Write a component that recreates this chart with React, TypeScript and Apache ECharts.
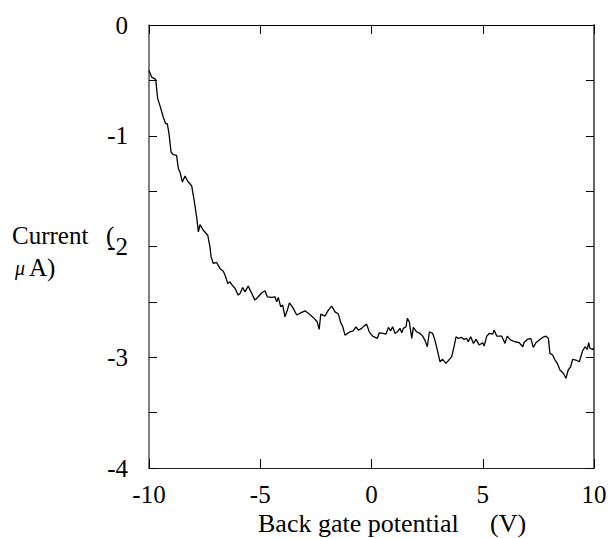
import React, { useEffect, useRef } from "react";
import * as echarts from "echarts";

const voltage: number[] = [
  -10.0, -9.88, -9.7, -9.61, -9.51, -9.36, -9.25, -9.18, -9.1, -9.01, -8.91, -8.76, -8.68, -8.61, -8.5,
  -8.38, -8.26, -8.08, -7.96, -7.86, -7.78, -7.71, -7.56, -7.36, -7.26, -7.21, -7.11, -6.96, -6.81, -6.66,
  -6.58, -6.46, -6.36, -6.26, -6.13, -5.99, -5.91, -5.79, -5.69, -5.54, -5.38, -5.24, -5.09, -4.93, -4.79,
  -4.68, -4.49, -4.34, -4.26, -4.19, -4.08, -3.99, -3.89, -3.78, -3.69, -3.54, -3.36, -3.18, -2.99, -2.8,
  -2.62, -2.44, -2.35, -2.28, -2.09, -1.94, -1.79, -1.64, -1.49, -1.38, -1.29, -1.19, -0.97, -0.82, -0.7,
  -0.59, -0.44, -0.34, -0.22, -0.1, 0.05, 0.26, 0.35, 0.53, 0.65, 0.76, 0.86, 0.95, 1.06, 1.16,
  1.28, 1.36, 1.43, 1.55, 1.61, 1.7, 1.81, 1.88, 2.03, 2.18, 2.3, 2.4, 2.51, 2.6, 2.75,
  2.85, 2.96, 3.08, 3.2, 3.35, 3.5, 3.6, 3.71, 3.8, 3.9, 4.05, 4.16, 4.28, 4.35, 4.46,
  4.58, 4.7, 4.8, 4.84, 5.0, 5.06, 5.18, 5.29, 5.45, 5.51, 5.63, 5.85, 6.0, 6.1, 6.26,
  6.45, 6.64, 6.8, 6.85, 7.0, 7.16, 7.27, 7.39, 7.54, 7.69, 7.84, 7.95, 8.02, 8.14, 8.25,
  8.35, 8.47, 8.62, 8.74, 8.84, 8.95, 9.04, 9.19, 9.34, 9.49, 9.6, 9.7, 9.76, 9.82, 9.94, 10.0,
];

const current: number[] = [
  -0.41, -0.471, -0.491, -0.665, -0.726, -0.831, -0.891, -0.891, -0.981, -1.147, -1.17, -1.177, -1.297, -1.327, -1.417,
  -1.363, -1.411, -1.454, -1.598, -1.733, -1.868, -1.802, -1.853, -1.898, -2.004, -2.094, -2.153, -2.144, -2.198, -2.223,
  -2.259, -2.334, -2.319, -2.349, -2.379, -2.439, -2.424, -2.37, -2.409, -2.358, -2.424, -2.484, -2.454, -2.418, -2.4,
  -2.454, -2.46, -2.454, -2.5, -2.46, -2.545, -2.529, -2.635, -2.574, -2.509, -2.55, -2.619, -2.599, -2.581, -2.61,
  -2.64, -2.68, -2.748, -2.61, -2.628, -2.574, -2.538, -2.59, -2.61, -2.689, -2.725, -2.8, -2.77, -2.761, -2.725,
  -2.755, -2.739, -2.719, -2.701, -2.77, -2.809, -2.83, -2.779, -2.785, -2.791, -2.73, -2.761, -2.725, -2.785, -2.77,
  -2.739, -2.779, -2.739, -2.725, -2.649, -2.68, -2.83, -2.73, -2.77, -2.785, -2.809, -2.845, -2.905, -2.77, -2.785,
  -2.845, -2.935, -3.041, -3.019, -3.055, -3.019, -2.996, -2.905, -2.815, -2.83, -2.821, -2.839, -2.83, -2.86, -2.815,
  -2.875, -2.839, -2.875, -2.89, -2.869, -2.899, -2.809, -2.785, -2.791, -2.755, -2.809, -2.809, -2.875, -2.809, -2.845,
  -2.86, -2.869, -2.905, -2.869, -2.839, -2.83, -2.911, -2.869, -2.845, -2.821, -2.809, -2.83, -2.965, -2.98, -3.025,
  -3.055, -3.115, -3.145, -3.19, -3.115, -3.086, -3.019, -3.025, -3.041, -2.941, -2.905, -2.929, -2.869, -2.92, -2.929, -2.92,
];

const xMin = -10;
const xMax = 10;
const xStep = 5;
const yMin = -4;
const yMax = 0;
const yStep = 0.5;

const xTitle = "Back gate potential";
const xUnit = "(V)";
const yTitle1 = "Current";
const yTitle2 = "(";
const yUnitMu = "μ";
const yUnitRest = "A)";

const FONT = "Liberation Serif";

export default function App() {
  const ref = useRef<HTMLDivElement>(null);

  useEffect(() => {
    if (!ref.current) return;
    const chart = echarts.init(ref.current, undefined, { renderer: "svg" });
    const data = voltage.map((v, i) => [v, current[i]]);
    const labelStyle = { color: "#000", fontFamily: FONT, fontSize: 25 };
    const tick = { show: true, inside: true, length: 9, lineStyle: { color: "#000", width: 1 } };
    const txt = (text: string, x: number, y: number, extra: any = {}) => ({
      type: "text",
      x,
      y,
      style: { text, fill: "#000", fontFamily: FONT, fontSize: 25, align: "left", verticalAlign: "middle", ...extra },
    });
    chart.setOption({
      animation: false,
      backgroundColor: "#fff",
      textStyle: { fontFamily: FONT },
      grid: { left: 149, right: 16, top: 25, bottom: 70, containLabel: false },
      xAxis: [
        {
          type: "value",
          position: "bottom",
          min: xMin,
          max: xMax,
          interval: xStep,
          axisLine: { show: true, onZero: false, lineStyle: { color: "#222", width: 1.2 } },
          axisTick: tick,
          axisLabel: { ...labelStyle, margin: 14, showMinLabel: true, showMaxLabel: true },
          splitLine: { show: false },
        },
        {
          type: "value",
          position: "top",
          min: xMin,
          max: xMax,
          interval: xStep,
          axisLine: { show: true, onZero: false, lineStyle: { color: "#000", width: 1 } },
          axisTick: tick,
          axisLabel: { show: false },
          splitLine: { show: false },
        },
      ],
      yAxis: [
        {
          type: "value",
          position: "left",
          min: yMin,
          max: yMax,
          interval: yStep,
          axisLine: { show: true, onZero: false, lineStyle: { color: "#555", width: 1.5 } },
          axisTick: { ...tick, length: 8 },
          axisLabel: {
            ...labelStyle,
            margin: 21,
            showMinLabel: true,
            showMaxLabel: true,
            formatter: (v: number) => (Number.isInteger(v) ? String(v) : ""),
          },
          splitLine: { show: false },
        },
        {
          type: "value",
          position: "right",
          min: yMin,
          max: yMax,
          interval: yStep,
          axisLine: { show: true, onZero: false, lineStyle: { color: "#666", width: 2 } },
          axisTick: { ...tick, length: 8 },
          axisLabel: { show: false },
          splitLine: { show: false },
        },
      ],
      series: [
        {
          type: "line",
          xAxisIndex: 0,
          yAxisIndex: 0,
          data,
          showSymbol: false,
          symbol: "none",
          lineStyle: { color: "#000", width: 1.3 },
        },
      ],
      graphic: [
        txt(yTitle1, 12, 235),
        txt(yTitle2, 106, 235),
        txt(yUnitMu, 15, 268, { fontSize: 20, fontStyle: "italic" }),
        txt(yUnitRest, 29, 267),
        txt(xTitle, 258, 523.5, { fontSize: 26 }),
        txt(xUnit, 490, 523.5, { fontSize: 26 }),
      ],
    });
    return () => chart.dispose();
  }, []);

  return (
    <div
      ref={ref}
      style={{ position: "fixed", left: 0, top: 0, width: 610, height: 538, background: "#fff" }}
    />
  );
}
